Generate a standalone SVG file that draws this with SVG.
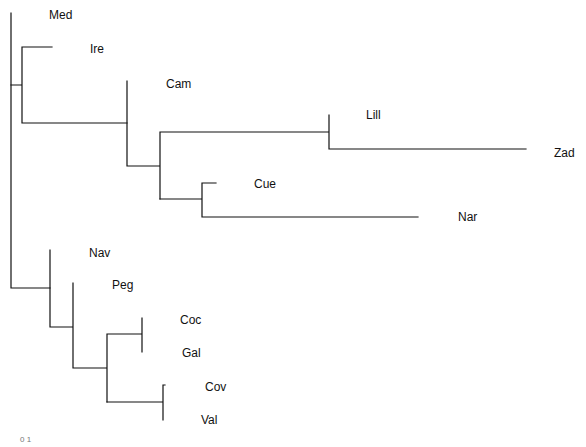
<svg xmlns="http://www.w3.org/2000/svg" width="586" height="447" viewBox="0 0 586 447">
<style>
.e{stroke:#111;stroke-width:1.2;fill:none;stroke-linecap:square}
.t{font-family:"Liberation Sans",Arial,sans-serif;font-size:12px;fill:#111}
.s{font-family:"Liberation Sans",Arial,sans-serif;font-size:8px;fill:#777}
</style>
<rect width="586" height="447" fill="#fff"/>
<g id="connectors">
<path class="e" d="M11,13V288H50"/>
<path class="e" d="M11,85H22M22,47V123M22,47H52M22,123H127"/>
<path class="e" d="M127,81V166H160M160,132V199M160,132H329M329,115V149H526"/>
<path class="e" d="M160,199H202M202,183V217M202,183H216M202,217H418"/>
<path class="e" d="M50,250V327H73M73,283V368H107M107,334V402M107,334H142M142,318V352"/>
<path class="e" d="M107,402H163M163,385V420M163,385H165"/>
</g>
<g id="Med"><text class="t" x="49" y="19">Med</text></g>
<g id="Ire"><text class="t" x="90" y="53">Ire</text></g>
<g id="Cam"><text class="t" x="166" y="88">Cam</text></g>
<g id="Lill"><text class="t" x="366" y="119">Lill</text></g>
<g id="Zad"><text class="t" x="554" y="157">Zad</text></g>
<g id="Cue"><text class="t" x="254" y="188">Cue</text></g>
<g id="Nar"><text class="t" x="458" y="221">Nar</text></g>
<g id="Nav"><text class="t" x="89" y="257">Nav</text></g>
<g id="Peg"><text class="t" x="112" y="289">Peg</text></g>
<g id="Coc"><text class="t" x="180" y="324">Coc</text></g>
<g id="Gal"><text class="t" x="182" y="357">Gal</text></g>
<g id="Cov"><text class="t" x="205" y="391">Cov</text></g>
<g id="Val"><text class="t" x="201" y="424">Val</text></g>
<g id="scale"><text class="s" x="20" y="442">0 1</text></g>
</svg>
